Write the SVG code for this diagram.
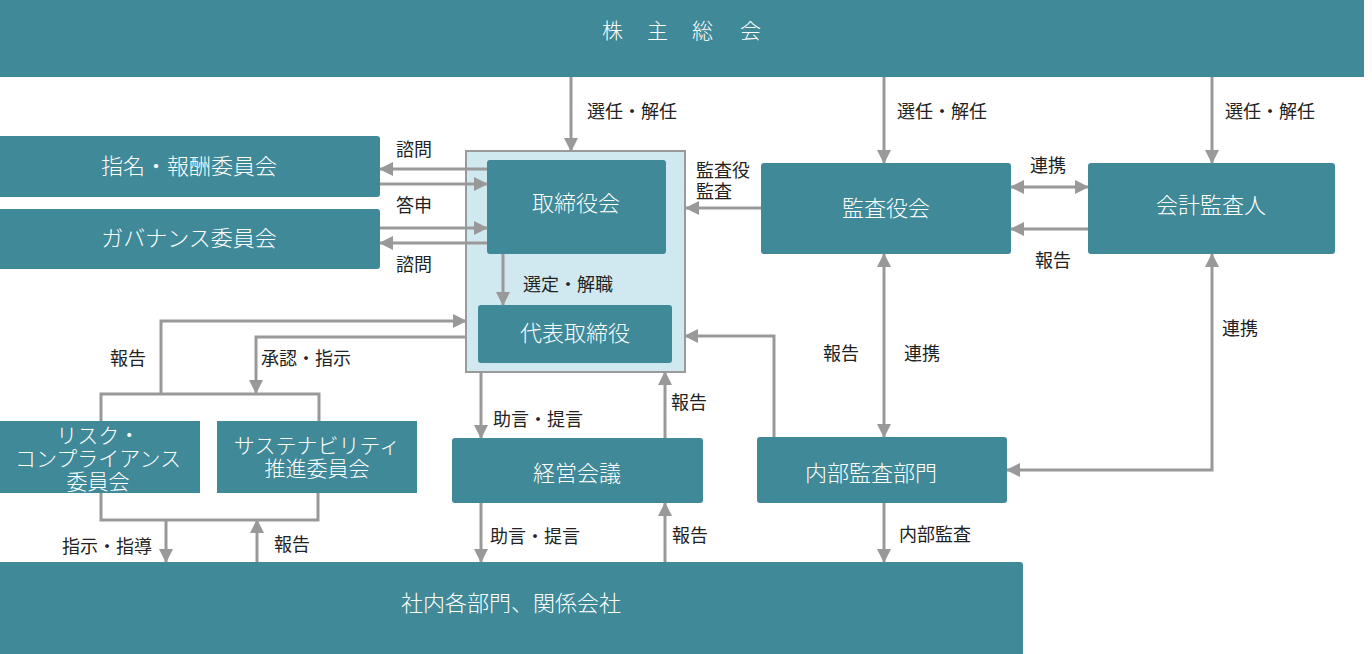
<svg xmlns="http://www.w3.org/2000/svg" width="1372" height="654" viewBox="0 0 1372 654">
<defs>
<marker id="arr" viewBox="0 0 14 14" refX="13" refY="7" markerWidth="14" markerHeight="14" markerUnits="userSpaceOnUse" orient="auto-start-reverse">
<path d="M0,0 L14,7 L0,14 z" fill="#999"/>
</marker>
<style>
.box{fill:#3f8998;}
.bt{fill:#fff;font-family:"Noto Sans CJK JP","Noto Sans",sans-serif;font-size:22px;font-weight:300;text-anchor:middle;dominant-baseline:central;}
.bs{font-size:21px;}
.lb{fill:#222;font-family:"Noto Sans CJK JP","Noto Sans",sans-serif;font-size:18px;dominant-baseline:central;}
.ln{fill:none;stroke:#999;stroke-width:3;}
.a{marker-end:url(#arr);}
.a2{marker-start:url(#arr);marker-end:url(#arr);}
</style>
</defs>
<g id="board-container">
<rect x="466" y="151" width="219" height="221" fill="#d0e8ef" stroke="#9a9a9a" stroke-width="2"/>
</g>
<g id="shareholders">
<rect class="box" x="0" y="0" width="1364" height="77"/>
<text fill="#fff" font-family="'Noto Sans CJK JP','Noto Sans',sans-serif" font-weight="300" font-size="21" y="29" dominant-baseline="central" x="602 625 647 670 692 715 740">株 主 総 会</text>
</g>
<g id="nomination">
<rect class="box" x="-3" y="136" width="383" height="61" rx="3"/>
<text class="bt" x="189" y="164">指名・報酬委員会</text>
</g>
<g id="governance">
<rect class="box" x="-3" y="209" width="383" height="60" rx="3"/>
<text class="bt" x="189" y="236">ガバナンス委員会</text>
</g>
<g id="board">
<rect class="box" x="487" y="160" width="179" height="94" rx="3"/>
<text class="bt" x="576" y="201">取締役会</text>
</g>
<g id="representative">
<rect class="box" x="478" y="305" width="194" height="58" rx="3"/>
<text class="bt" x="575" y="331">代表取締役</text>
</g>
<g id="audit-board">
<rect class="box" x="761" y="163" width="250" height="91" rx="3"/>
<text class="bt" x="886" y="206">監査役会</text>
</g>
<g id="accounting-auditor">
<rect class="box" x="1088" y="163" width="247" height="91" rx="3"/>
<text class="bt" x="1211" y="203">会計監査人</text>
</g>
<g id="risk">
<rect class="box" x="-3" y="421" width="203" height="72"/>
<text class="bt bs"><tspan x="98" y="434">リスク・</tspan><tspan x="98" y="457">コンプライアンス</tspan><tspan x="98" y="480">委員会</tspan></text>
</g>
<g id="sustainability">
<rect class="box" x="217" y="421" width="200" height="72"/>
<text class="bt bs"><tspan x="317" y="444">サステナビリティ</tspan><tspan x="317" y="467">推進委員会</tspan></text>
</g>
<g id="management">
<rect class="box" x="452" y="438" width="251" height="65" rx="3"/>
<text class="bt" x="577" y="471">経営会議</text>
</g>
<g id="internal-audit">
<rect class="box" x="757" y="437" width="250" height="66" rx="3"/>
<text class="bt" x="871" y="471">内部監査部門</text>
</g>
<g id="departments">
<rect class="box" x="-3" y="562" width="1026" height="95" rx="3"/>
<text class="bt" x="511" y="601">社内各部門、関係会社</text>
</g>
<g id="connectors">
<path class="ln a" d="M571,77 V151"/>
<path class="ln a" d="M884,77 V163"/>
<path class="ln a" d="M1212,77 V163"/>
<path class="ln a" d="M487,169 H380"/>
<path class="ln a" d="M380,184 H487"/>
<path class="ln a" d="M380,228 H487"/>
<path class="ln a" d="M487,243 H380"/>
<path class="ln a" d="M503,254 V305"/>
<path class="ln a" d="M761,208 H686"/>
<path class="ln a2" d="M1011,187 H1088"/>
<path class="ln a" d="M1088,229 H1011"/>
<path class="ln a2" d="M884,254 V437"/>
<path class="ln a2" d="M1212,254 V470 H1007"/>
<path class="ln a" d="M774,437 V336 H685"/>
<path class="ln a" d="M884,503 V562"/>
<path class="ln a" d="M481,372 V438"/>
<path class="ln a" d="M665,438 V372"/>
<path class="ln a" d="M481,503 V562"/>
<path class="ln a" d="M665,562 V503"/>
<path class="ln a" d="M161,394 V321 H466"/>
<path class="ln a" d="M466,337 H256 V393"/>
<path class="ln" d="M101,421 V394 H319 V421"/>
<path class="ln" d="M101,493 V520 H318 V493"/>
<path class="ln a" d="M166,520 V562"/>
<path class="ln a" d="M257,562 V520"/>
</g>
<g id="labels">
<text class="lb" x="587" y="110">選任・解任</text>
<text class="lb" x="897" y="110">選任・解任</text>
<text class="lb" x="1225" y="110">選任・解任</text>
<text class="lb" x="396" y="148">諮問</text>
<text class="lb" x="396" y="204">答申</text>
<text class="lb" x="396" y="263">諮問</text>
<text class="lb"><tspan x="696" y="169">監査役</tspan><tspan x="696" y="190">監査</tspan></text>
<text class="lb" x="1030" y="164">連携</text>
<text class="lb" x="1035" y="259">報告</text>
<text class="lb" x="523" y="283">選定・解職</text>
<text class="lb" x="493" y="418">助言・提言</text>
<text class="lb" x="671" y="401">報告</text>
<text class="lb" x="490" y="535">助言・提言</text>
<text class="lb" x="672" y="534">報告</text>
<text class="lb" x="823" y="352">報告</text>
<text class="lb" x="904" y="352">連携</text>
<text class="lb" x="1222" y="327">連携</text>
<text class="lb" x="899" y="533">内部監査</text>
<text class="lb" x="110" y="357">報告</text>
<text class="lb" x="261" y="357">承認・指示</text>
<text class="lb" x="62" y="545">指示・指導</text>
<text class="lb" x="274" y="543">報告</text>
</g>
</svg>
